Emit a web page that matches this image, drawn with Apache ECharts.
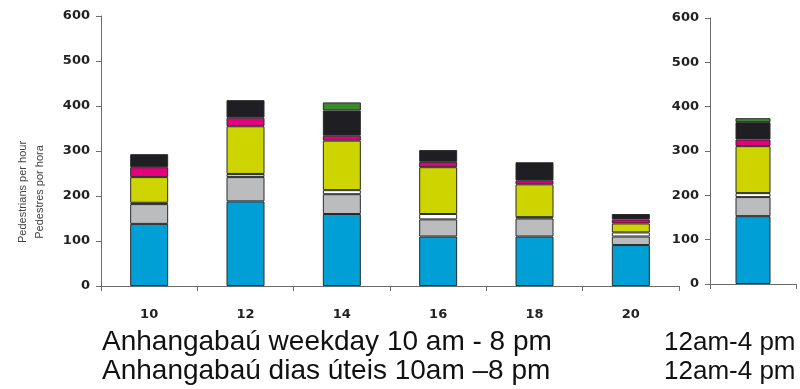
<!DOCTYPE html>
<html>
<head>
<meta charset="utf-8">
<script src="https://cdn.jsdelivr.net/npm/echarts@6/dist/echarts.min.js"></script>
<style>
html,body{margin:0;padding:0;background:#fff;}
#chart{width:800px;height:389px;}
</style>
</head>
<body>
<div id="chart"></div>
<script>
// Data
var categories = ['10', '12', '14', '16', '18', '20'];
var yTicks = [0, 100, 200, 300, 400, 500, 600];
var blue   = [138, 188, 160, 110, 110, 91];
var gray   = [44, 54, 44, 38, 40, 19];
var gray2  = [3, 7, 0, 0, 3, 0];
var white  = [0, 0, 9, 12, 0, 9];
var yellow = [57, 106, 110, 104, 73, 20];
var pink   = [22, 19, 11, 12, 8, 9];
var black  = [29, 39, 56, 26, 41, 12];
var green  = [0, 0, 18, 0, 0, 0];

var rightCategories = [''];
var rBlue = [153], rGray = [43], rGray2 = [0], rWhite = [9], rYellow = [106], rPink = [15], rBlack = [39], rGreen = [9];

var line1 = 'Anhangabaú weekday 10 am - 8 pm';
var line2 = 'Anhangabaú dias úteis 10am –8 pm';
var rLine = '12am-4 pm';
var yName1 = 'Pedestrians per hour';
var yName2 = 'Pedestres por hora';

var colors = ['#00A0D7', '#BBBCBE', '#C9CACC', '#FFFFFF', '#CDD400', '#E4007D', '#1F1E23', '#3A8A2C'];
var names = ['blue', 'gray', 'gray2', 'white', 'yellow', 'pink', 'black', 'green'];
var mainSets = [blue, gray, gray2, white, yellow, pink, black, green];
var rightSets = [rBlue, rGray, rGray2, rWhite, rYellow, rPink, rBlack, rGreen];

function nz(arr) { return arr.map(function (v) { return v ? v : null; }); }

var axisColor = '#6b6b6b';
var labelFont = { color: '#222', fontFamily: 'DejaVu Sans', fontWeight: 'bold', fontSize: 13 };

var series = [];
mainSets.forEach(function (d, i) {
  series.push({
    type: 'bar', name: names[i], stack: 'main', xAxisIndex: 0, yAxisIndex: 0,
    barWidth: 38, data: nz(d),
    itemStyle: { color: colors[i], borderColor: '#2a2a2a', borderWidth: 1 }
  });
});
rightSets.forEach(function (d, i) {
  series.push({
    type: 'bar', name: names[i] + '_r', stack: 'right', xAxisIndex: 1, yAxisIndex: 1,
    barWidth: 35, data: nz(d),
    itemStyle: { color: colors[i], borderColor: '#2a2a2a', borderWidth: 1 }
  });
});

function yAxisDef(gi) {
  return {
    type: 'value', gridIndex: gi, min: yTicks[0], max: yTicks[yTicks.length - 1], interval: 100,
    axisLine: { show: true, lineStyle: { color: axisColor, width: 1 } },
    axisTick: { show: true, length: 5, lineStyle: { color: axisColor } },
    splitLine: { show: false },
    axisLabel: Object.assign({ margin: 11 }, labelFont)
  };
}
function xAxisDef(gi, cats, showLabel) {
  return {
    type: 'category', gridIndex: gi, data: cats,
    axisLine: { show: true, lineStyle: { color: axisColor, width: 1 } },
    axisTick: { show: true, length: 5, alignWithLabel: false, lineStyle: { color: axisColor } },
    axisLabel: Object.assign({ show: showLabel, margin: 22 }, labelFont)
  };
}

var bigFont = '28px "Liberation Sans", Arial, sans-serif';
var rFont = '26px "Liberation Sans", Arial, sans-serif';

var option = {
  animation: false,
  backgroundColor: '#ffffff',
  grid: [
    { left: 101, right: 121, top: 16, bottom: 103 },
    { left: 710, right: 4, top: 18, bottom: 105 }
  ],
  xAxis: [xAxisDef(0, categories, true), xAxisDef(1, rightCategories, false)],
  yAxis: [yAxisDef(0), yAxisDef(1)],
  series: series,
  graphic: [
    { type: 'text', left: 102, top: 328, style: { text: line1, fill: '#111', font: bigFont } },
    { type: 'text', left: 102, top: 357, style: { text: line2, fill: '#111', font: bigFont } },
    { type: 'text', left: 664, top: 330, style: { text: rLine, fill: '#111', font: rFont } },
    { type: 'text', left: 664, top: 359, style: { text: rLine, fill: '#111', font: rFont } },
    { type: 'text', x: 31, y: 192, rotation: Math.PI / 2,
      style: { text: yName1 + '\n' + yName2, fill: '#444', font: '11px "Liberation Sans", Arial, sans-serif', align: 'center', verticalAlign: 'middle', lineHeight: 17 } }
  ]
};

var chart = echarts.init(document.getElementById('chart'), null, { renderer: 'canvas' });
chart.setOption(option);
</script>
</body>
</html>
